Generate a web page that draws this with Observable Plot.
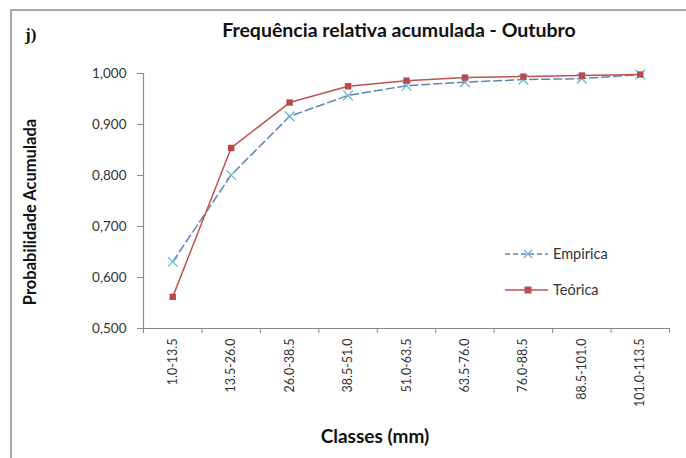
<!DOCTYPE html>
<html>
<head>
<meta charset="utf-8">
<script src="https://cdn.jsdelivr.net/npm/d3@7"></script>
<script src="https://cdn.jsdelivr.net/npm/@observablehq/plot@0.6"></script>
<style>
  html, body { margin: 0; padding: 0; background: #fff; }
  #chart svg { display: block; }
</style>
</head>
<body>
<div id="chart"></div>
<script>
const categories = ["1.0-13.5","13.5-26.0","26.0-38.5","38.5-51.0","51.0-63.5","63.5-76.0","76.0-88.5","88.5-101.0","101.0-113.5"];
const empirica = [0.631, 0.801, 0.916, 0.957, 0.976, 0.983, 0.988, 0.990, 0.998];
const teorica  = [0.562, 0.854, 0.943, 0.975, 0.986, 0.992, 0.994, 0.996, 0.998];
const yTicks = [0.5, 0.6, 0.7, 0.8, 0.9, 1.0];
const seriesNames = ["Empirica", "Teórica"];
const titleText = "Frequência relativa acumulada - Outubro";
const yLabel = "Probabilidade Acumulada";
const xLabel = "Classes (mm)";
const panelTag = "j)";

const rows = categories.map((c, i) => ({pos: i + 0.5, cat: c, emp: empirica[i], teo: teorica[i]}));

const font = "Lato, 'Noto Sans', sans-serif";
const blueLine = "#5b86b4", blueMark = "#5fb3d3", redLine = "#c4504e", redMark = "#b9494a";

const W = 686, H = 458;
const plot = Plot.plot({
  width: W, height: H,
  marginLeft: 143, marginRight: 17, marginTop: 73, marginBottom: 130,
  style: {fontFamily: font, fontSize: "13px", color: "#333", background: "transparent"},
  x: {type: "linear", domain: [0, categories.length], axis: null},
  y: {domain: [0.5, 1.0], axis: null},
  marks: [
    Plot.ruleX([0], {stroke: "#8a8a8a", strokeWidth: 1.2}),
    Plot.ruleY([0.5], {stroke: "#8a8a8a", strokeWidth: 1.2}),
    Plot.axisY({ticks: yTicks, tickFormat: d => d.toFixed(3).replace(".", ","), tickSize: 6, tickPadding: 11, label: null, stroke: "#8a8a8a", fill: "#333", fontSize: 13.5}),
    Plot.axisX({ticks: d3.range(categories.length + 1), tickFormat: () => "", tickSize: 5, label: null, stroke: "#8a8a8a"}),
    Plot.axisX({ticks: rows.map(r => r.pos), tickFormat: d => categories[Math.round(d - 0.5)], tickRotate: -90, tickSize: 0, tickPadding: 10, label: null, fill: "#333", fontSize: 12.5}),
    Plot.line(rows, {x: "pos", y: "emp", stroke: blueLine, strokeWidth: 1.5, strokeDasharray: "8,4"}),
    Plot.line(rows, {x: "pos", y: "teo", stroke: redLine, strokeWidth: 1.5}),
    Plot.dot(rows, {x: "pos", y: "emp", symbol: "times", r: 4.5, stroke: blueMark, strokeWidth: 1.2}),
    Plot.dot(rows, {x: "pos", y: "teo", symbol: "square", r: 3.6, fill: redMark, stroke: "none"})
  ]
});
document.getElementById("chart").appendChild(plot);

const svg = d3.select(plot);
// outer chart border (extends past right/bottom edge as in the reference)
svg.insert("rect", ":first-child")
  .attr("x", 11).attr("y", 10).attr("width", W + 10).attr("height", H + 10)
  .attr("fill", "none").attr("stroke", "#8c8c8c").attr("stroke-width", 1.5);

function label(sel, txt, opts) {
  const t = sel.append("text").text(txt)
    .style("font-family", opts.family || font)
    .style("font-weight", "bold")
    .style("font-size", opts.size + "px")
    .style("fill", "#111")
    .style("text-anchor", opts.anchor || "middle");
  if (opts.transform) t.attr("transform", opts.transform);
  else t.attr("x", opts.x).attr("y", opts.y);
  return t;
}

label(svg, panelTag, {x: 25, y: 40, size: 17, family: "'Liberation Serif', 'DejaVu Serif', serif", anchor: "start"});
label(svg, titleText, {x: 399, y: 37, size: 19.5});
label(svg, yLabel, {transform: "translate(36,212) rotate(-90)", size: 16.5});
label(svg, xLabel, {x: 375, y: 443, size: 19});

// legend
const lg = svg.append("g").style("font-family", font).style("font-size", "14.5px").style("fill", "#333");
const legendItems = [
  {name: seriesNames[0], y: 254, stroke: blueLine, dash: "5,3", mark: "x"},
  {name: seriesNames[1], y: 290, stroke: redLine, dash: null, mark: "sq"}
];
legendItems.forEach(it => {
  lg.append("line").attr("x1", 505).attr("x2", 548).attr("y1", it.y).attr("y2", it.y)
    .attr("stroke", it.stroke).attr("stroke-width", 1.5).attr("stroke-dasharray", it.dash);
  if (it.mark === "x") {
    lg.append("path").attr("d", `M${528-4},${it.y-4}L${528+4},${it.y+4}M${528-4},${it.y+4}L${528+4},${it.y-4}`)
      .attr("stroke", blueMark).attr("stroke-width", 1.2);
  } else {
    lg.append("rect").attr("x", 524.5).attr("y", it.y - 3.5).attr("width", 7).attr("height", 7).attr("fill", redMark);
  }
  lg.append("text").text(it.name).attr("x", 553).attr("y", it.y).attr("dy", "0.35em").style("text-anchor", "start");
});
</script>
</body>
</html>
